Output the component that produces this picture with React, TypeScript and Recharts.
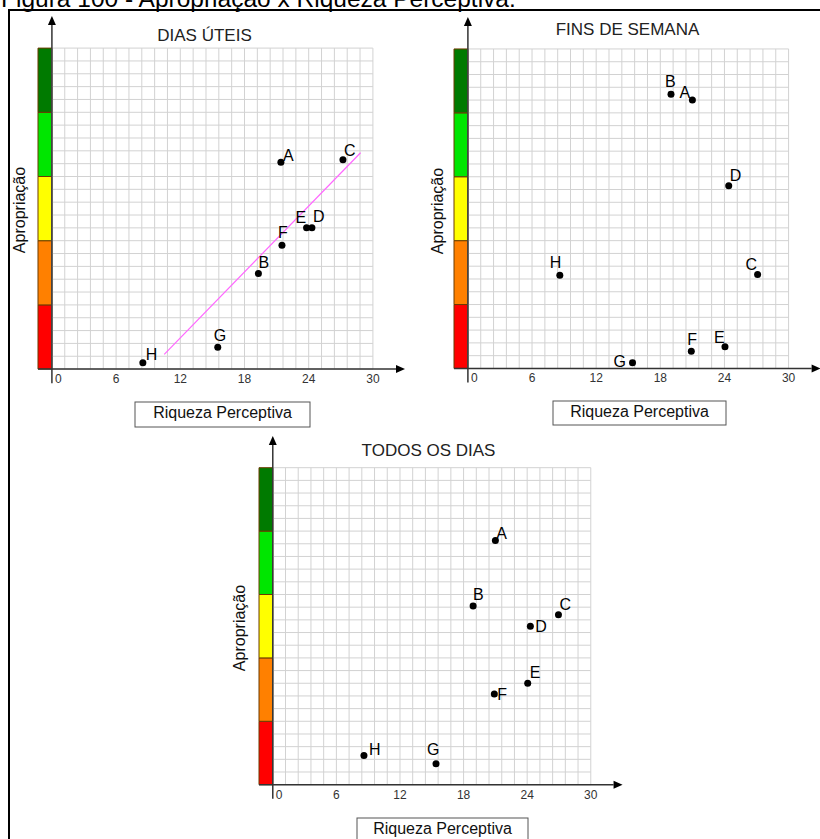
import React from "react";
import {
  ReferenceArea,
  ReferenceLine,
  Scatter,
  ScatterChart,
  XAxis,
  YAxis,
} from "recharts";

const pontos = ["A", "B", "C", "D", "E", "F", "G", "H"];

// Dias úteis
const uteisX = [21.4, 19.3, 27.2, 24.3, 23.8, 21.5, 15.5, 8.5];
const uteisY = [3.22, 1.49, 3.26, 2.2, 2.2, 1.93, 0.34, 0.1];
// Fins de semana
const fimX = [21.0, 19.0, 27.1, 24.4, 24.05, 20.9, 15.4, 8.6];
const fimY = [4.2, 4.29, 1.47, 2.86, 0.34, 0.27, 0.09, 1.46];
// Todos os dias
const todosX = [21.0, 18.9, 26.95, 24.3, 24.05, 20.9, 15.4, 8.6];
const todosY = [3.85, 2.82, 2.68, 2.5, 1.6, 1.43, 0.33, 0.46];

// linha de tendência (dias úteis)
const tendenciaX = [10.5, 28.85];
const tendenciaY = [0.23, 3.37];

const ticksX = [0, 6, 12, 18, 24, 30];
const faixas = [0, 1, 2, 3, 4, 5];
const coresFaixas = ["#ff0000", "#ff8000", "#ffff00", "#00e600", "#007a00"];

const X_MIN = -1.3;
const X_MAX = 33;
const Y_MAX = 5.5;
const gradeX = Array.from({ length: 26 }, (_, i) => +(i * 1.2).toFixed(2));
const gradeY = Array.from({ length: 26 }, (_, i) => +(i * 0.2).toFixed(2));

const FONTE = "Liberation Sans, Arial, sans-serif";

// deslocamento das letras em relação ao ponto
const rotulosUteis: Record<string, number[]> = {
  A: [2, -1], B: [0, -5], C: [1, -4], D: [1, -6],
  E: [-11, -5], F: [-4, -7], G: [-4, -6], H: [3, -3],
};
const rotulosFim: Record<string, number[]> = {
  A: [-13, -2], B: [-6, -7], C: [-12, -5], D: [1, -5],
  E: [-11, -4], F: [-4, -6], G: [-19, 4], H: [-10, -7],
};
const rotulosTodos: Record<string, number[]> = {
  A: [1, -2], B: [0, -6], C: [1, -5], D: [5, 6],
  E: [2, -5], F: [3, 6], G: [-9, -9], H: [5, -1],
};

const Seta = (props: any) => {
  const { x1, y1, x2, y2 } = props;
  const a = Math.atan2(y2 - y1, x2 - x1);
  const L = 9;
  const W = 4;
  const bx = x2 - L * Math.cos(a);
  const by = y2 - L * Math.sin(a);
  const px = -Math.sin(a) * W;
  const py = Math.cos(a) * W;
  return (
    <g>
      <line x1={x1} y1={y1} x2={bx} y2={by} stroke="#333" strokeWidth={1.5} />
      <polygon
        points={`${x2},${y2} ${bx + px},${by + py} ${bx - px},${by - py}`}
        fill="#000"
      />
    </g>
  );
};

const TickX = (p: any) => {
  const v = p.payload.value;
  const zero = v === 0;
  return (
    <text
      x={zero ? p.x + 3 : p.x}
      y={p.y + 14}
      textAnchor={zero ? "start" : "middle"}
      fontSize={12}
      fontFamily={FONTE}
      fill="#333"
    >
      {v}
    </text>
  );
};

function Painel({
  x0, y0, sx, sy, xs, ys, rotulos, tendencia,
}: {
  x0: number; y0: number; sx: number; sy: number;
  xs: number[]; ys: number[]; rotulos: Record<string, number[]>;
  tendencia?: boolean;
}) {
  const m = { top: 5, right: 8, bottom: 0, left: 5 };
  const eixoH = 24;
  const plotW = sx * (X_MAX - X_MIN);
  const plotH = sy * Y_MAX;
  const data = pontos.map((nome, i) => ({ nome, x: xs[i], y: ys[i] }));

  const Ponto = (props: any) => {
    const { cx, cy, payload } = props;
    const [dx, dy] = rotulos[payload.nome];
    return (
      <g>
        <circle cx={cx} cy={cy} r={3.5} fill="#000" />
        <text x={cx + dx} y={cy + dy} fontSize={16} fontFamily={FONTE} fill="#000">
          {payload.nome}
        </text>
      </g>
    );
  };

  return (
    <div style={{ position: "absolute", left: x0 + sx * X_MIN - m.left, top: y0 - plotH - m.top }}>
      <ScatterChart width={plotW + m.left + m.right} height={plotH + m.top + eixoH} margin={m}>
        <XAxis
          type="number"
          dataKey="x"
          domain={[X_MIN, X_MAX]}
          ticks={ticksX}
          interval={0}
          allowDataOverflow
          axisLine={false}
          tickLine={false}
          tickSize={0}
          tickMargin={0}
          height={eixoH}
          tick={TickX}
        />
        <YAxis type="number" dataKey="y" domain={[0, Y_MAX]} hide allowDataOverflow />
        {gradeX.map((g) => (
          <ReferenceLine
            key={"vx" + g}
            segment={[{ x: g, y: 0 }, { x: g, y: 5 }]}
            stroke="#d2d2d2"
            strokeWidth={1}
            ifOverflow="visible"
          />
        ))}
        {gradeY.map((g) => (
          <ReferenceLine
            key={"hy" + g}
            segment={[{ x: 0, y: g }, { x: 30, y: g }]}
            stroke="#d2d2d2"
            strokeWidth={1}
            ifOverflow="visible"
          />
        ))}
        {faixas.slice(0, -1).map((f, i) => (
          <ReferenceArea
            key={"f" + f}
            x1={X_MIN}
            x2={0}
            y1={f}
            y2={faixas[i + 1]}
            fill={coresFaixas[i]}
            fillOpacity={1}
            stroke="#6b3a00"
            strokeWidth={1}
            ifOverflow="visible"
          />
        ))}
        <ReferenceLine
          segment={[{ x: X_MIN, y: 0 }, { x: X_MAX, y: 0 }]}
          ifOverflow="visible"
          shape={Seta}
        />
        <ReferenceLine
          segment={[{ x: 0, y: -0.22 }, { x: 0, y: Y_MAX }]}
          ifOverflow="visible"
          shape={Seta}
        />
        {tendencia && (
          <ReferenceLine
            segment={[
              { x: tendenciaX[0], y: tendenciaY[0] },
              { x: tendenciaX[1], y: tendenciaY[1] },
            ]}
            stroke="#ff66ff"
            strokeWidth={1.2}
            ifOverflow="visible"
          />
        )}
        <Scatter data={data} shape={Ponto} isAnimationActive={false} />
      </ScatterChart>
    </div>
  );
}

function Caixa({ x, y, w, h, base }: { x: number; y: number; w: number; h: number; base: number }) {
  return (
    <g>
      <rect x={x} y={y} width={w} height={h} fill="#fff" stroke="#555" strokeWidth={1} />
      <text x={x + w / 2} y={base} textAnchor="middle" fontSize={16} fontFamily={FONTE} fill="#111">
        Riqueza Perceptiva
      </text>
    </g>
  );
}

function Apropriacao({ x, y }: { x: number; y: number }) {
  return (
    <text
      x={x}
      y={y}
      transform={`rotate(-90, ${x}, ${y})`}
      textAnchor="middle"
      fontSize={16}
      fontFamily={FONTE}
      fill="#111"
    >
      Apropriação
    </text>
  );
}

export default function App() {
  return (
    <div
      style={{
        position: "absolute",
        left: 0,
        top: 0,
        width: 820,
        height: 839,
        overflow: "hidden",
        background: "#fff",
        fontFamily: FONTE,
      }}
    >
      <svg width={820} height={839} style={{ position: "absolute", left: 0, top: 0 }}>
        <text x={1} y={7} fontSize={24.5} fontFamily={FONTE} fill="#000">
          Figura 100 - Apropriação x Riqueza Perceptiva.
        </text>
        <rect x={8} y={9} width={812} height={2} fill="#000" />
        <rect x={8} y={9} width={2} height={830} fill="#000" />

        <text x={204.5} y={41} textAnchor="middle" fontSize={17} fontFamily={FONTE} fill="#222">
          DIAS ÚTEIS
        </text>
        <text x={627.5} y={35} textAnchor="middle" fontSize={17} fontFamily={FONTE} fill="#222">
          FINS DE SEMANA
        </text>
        <text x={428.5} y={456} textAnchor="middle" fontSize={17} fontFamily={FONTE} fill="#222">
          TODOS OS DIAS
        </text>

        <Apropriacao x={25} y={210} />
        <Apropriacao x={443} y={211} />
        <Apropriacao x={245} y={628} />

        <Caixa x={135} y={402} w={175} h={25} base={418} />
        <Caixa x={553} y={401} w={173} h={24} base={417} />
        <Caixa x={357} y={818} w={171} h={25} base={834} />
      </svg>

      <Painel x0={52} y0={369} sx={10.7} sy={64.2} xs={uteisX} ys={uteisY} rotulos={rotulosUteis} tendencia />
      <Painel x0={468.3} y0={368} sx={10.69} sy={63.9} xs={fimX} ys={fimY} rotulos={rotulosFim} />
      <Painel x0={272.3} y0={785} sx={10.6} sy={63.4} xs={todosX} ys={todosY} rotulos={rotulosTodos} />
    </div>
  );
}
